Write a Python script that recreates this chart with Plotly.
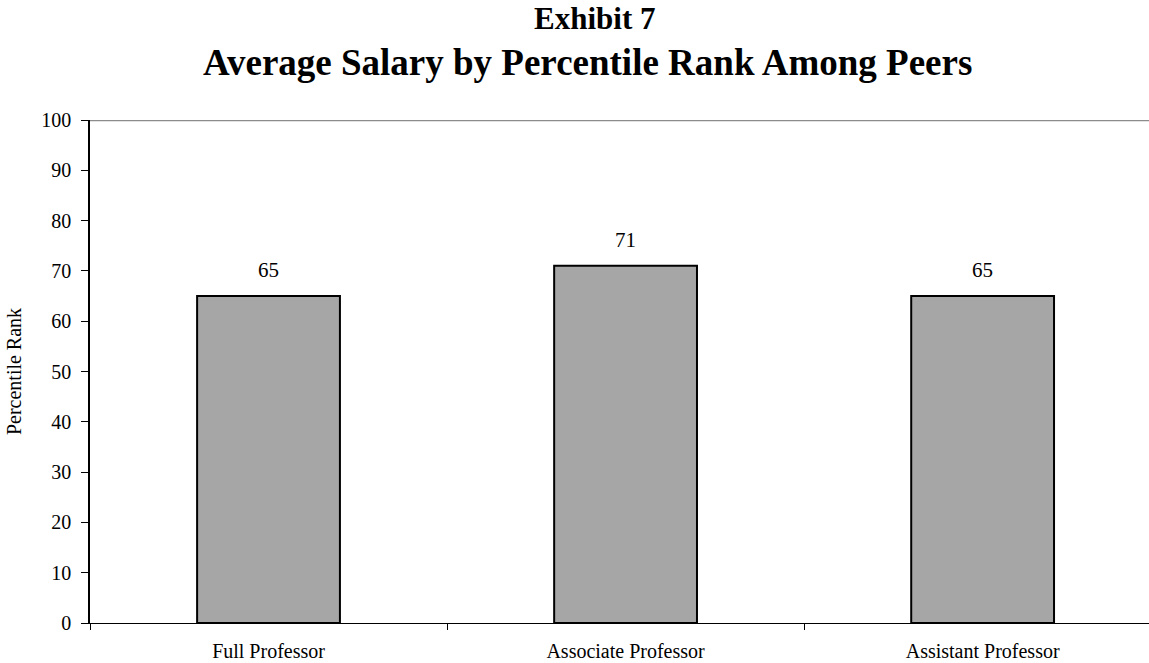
import plotly.graph_objects as go

categories = ["Full Professor", "Associate Professor", "Assistant Professor"]
values = [65, 71, 65]
y_ticks = [0, 10, 20, 30, 40, 50, 60, 70, 80, 90, 100]

FONT = "Liberation Serif, Times New Roman, serif"

fig = go.Figure()
fig.add_trace(go.Bar(
    x=categories, y=values, width=0.4,
    marker=dict(color="#a6a6a6", line=dict(color="black", width=2)),
    hoverinfo="skip",
))

for c, v in zip(categories, values):
    fig.add_annotation(x=c, y=v, text=str(v), showarrow=False, yanchor="bottom",
                       yshift=12, font=dict(family=FONT, size=21, color="black"))

# title lines
fig.add_annotation(xref="paper", yref="paper", x=0.476, y=1.2008, xanchor="center", yanchor="middle",
                   text="<b>Exhibit 7</b>", showarrow=False,
                   font=dict(family=FONT, size=31, color="black"))
fig.add_annotation(xref="paper", yref="paper", x=0.47, y=1.1153, xanchor="center", yanchor="middle",
                   text="<b>Average Salary by Percentile Rank Among Peers</b>", showarrow=False,
                   font=dict(family=FONT, size=37, color="black"))

fig.add_shape(type="line", xref="paper", x0=0, x1=1, yref="y", y0=100, y1=100,
              line=dict(color="#8c8c8c", width=2.5), layer="above")

fig.update_layout(
    width=1149, height=663,
    margin=dict(l=90, r=0, t=120, b=40),
    paper_bgcolor="white", plot_bgcolor="white",
    showlegend=False,
    font=dict(family=FONT, color="black"),
)
fig.update_xaxes(
    range=[-0.5, 2.466], showline=True, linecolor="black", linewidth=1,
    ticks="outside", tickson="boundaries", ticklen=6, tickcolor="black",
    tickfont=dict(family=FONT, size=20, color="black"), showgrid=False,
    ticklabelstandoff=10,
)
fig.update_yaxes(
    range=[0, 100], tickvals=y_ticks, showline=True, linecolor="black", linewidth=1.5,
    ticks="outside", ticklen=7, tickcolor="black", showgrid=False, zeroline=False,
    tickfont=dict(family=FONT, size=20, color="black"), ticklabelstandoff=6,
    title=dict(text="Percentile Rank", font=dict(family=FONT, size=20, color="black"), standoff=14),
)

fig.write_html("out.html")
